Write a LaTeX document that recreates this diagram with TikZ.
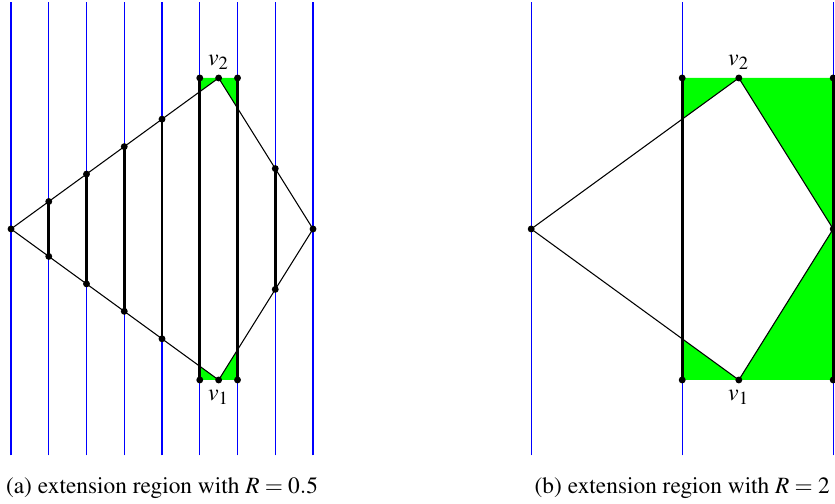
\documentclass[tikz,border=0pt]{standalone}
\usepackage[T1]{fontenc}
\usepackage{mathptmx}
\usetikzlibrary{positioning}

\begin{document}
\begin{tikzpicture}[x=1cm,y=1cm,
  sweep/.style={draw=blue,line width=0.5pt},
  edge/.style={black,line width=0.4pt},
  chord/.style={black,line width=1pt},
  region/.style={fill=green,even odd rule},
  vdot/.style={circle,fill=black,inner sep=0pt,minimum size=2.6pt},
  lab/.style={inner sep=1pt,font=\fontsize{9}{11}\selectfont},
  captext/.style={anchor=base,inner sep=0pt,font=\fontsize{8.8}{10.5}\selectfont}]
\useasboundingbox (-0.146,-3.642) rectangle (10.914,3.033);

% (a) extension region, R = 0.5
\coordinate (a-l) at (0,0);
\coordinate (a-v2) at (2.75,2);
\coordinate (a-r) at (4,0);
\coordinate (a-v1) at (2.75,-2);
\foreach \x in {0,0.5,...,4.01} \draw[sweep] (\x,-3) -- (\x,3);
\begin{scope}
  \clip (2.5,-2) rectangle (3,2);
  \fill[region] (2.5,-2) rectangle (3,2) (a-l) -- (a-v2) -- (a-r) -- (a-v1) -- cycle;
\end{scope}
\draw[edge] (a-l) -- (a-v2) -- (a-r) -- (a-v1) -- cycle;
\foreach \x/\y in {0.5/0.3636,1/0.7273,1.5/1.0909,2/1.4545,3.5/0.8} {
  \draw[chord] (\x,-\y) -- (\x,\y);
  \node[vdot] at (\x,\y) {};
  \node[vdot] at (\x,-\y) {};
}
\foreach \x in {2.5,3} {
  \draw[chord] (\x,-2) -- (\x,2);
  \node[vdot] at (\x,2) {};
  \node[vdot] at (\x,-2) {};
}
\foreach \p in {a-l,a-r,a-v1,a-v2} \node[vdot] at (\p) {};
\node[lab,above=2pt of a-v2] (a-lab2) {$v_2$};
\node[lab,below=2.5pt of a-v1] (a-lab1) {$v_1$};
\node[captext] (a-cap) at (2,-3.51) {(a) extension region with $R=0.5$};

% (b) extension region, R = 2
\coordinate (b-l) at (6.89,0);
\coordinate (b-v2) at (9.64,2);
\coordinate (b-r) at (10.89,0);
\coordinate (b-v1) at (9.64,-2);
\foreach \x in {6.89,8.89,10.89} \draw[sweep] (\x,-3) -- (\x,3);
\begin{scope}
  \clip (8.89,-2) rectangle (10.89,2);
  \fill[region] (8.89,-2) rectangle (10.89,2) (b-l) -- (b-v2) -- (b-r) -- (b-v1) -- cycle;
\end{scope}
\draw[edge] (b-l) -- (b-v2) -- (b-r) -- (b-v1) -- cycle;
\foreach \x in {8.89,10.89} {
  \draw[chord] (\x,-2) -- (\x,2);
  \node[vdot] at (\x,2) {};
  \node[vdot] at (\x,-2) {};
}
\foreach \p in {b-l,b-r,b-v1,b-v2} \node[vdot] at (\p) {};
\node[lab,above=2pt of b-v2] (b-lab2) {$v_2$};
\node[lab,below=2.5pt of b-v1] (b-lab1) {$v_1$};
\node[captext] (b-cap) at (8.89,-3.51) {(b) extension region with $R=2$};
\end{tikzpicture}
\end{document}
